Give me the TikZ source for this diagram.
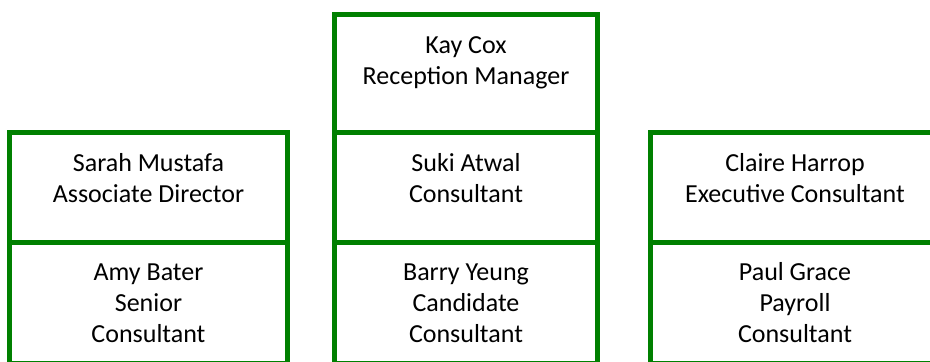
\documentclass[tikz,border=0pt]{standalone}
\usepackage{fontspec}
\setmainfont{Carlito}
\usetikzlibrary{positioning}
\definecolor{boxgreen}{RGB}{0,128,0}
\tikzset{
	box/.style={draw=boxgreen, line width=3.75pt, rectangle, inner sep=0pt},
	who/.style={align=center, inner sep=0pt, anchor=north, font=\fontsize{19.5}{23}\selectfont}
}
\begin{document}
\begin{tikzpicture}[x=0.75pt, y=-0.75pt]
	
	\useasboundingbox (0,0) rectangle (930,361);
	
	% Spalte links
	\node[box, minimum width=208.5pt, minimum height=82.125pt] (sarah) at (148.5,187.25) {};
	\node[box, minimum width=208.5pt, minimum height=90.75pt] (amy) at (148.5,302.5) {};
	
	% Spalte Mitte
	\node[box, minimum width=197.25pt, minimum height=88.5pt] (kay) at (466,73.5) {};
	\node[box, minimum width=197.25pt, minimum height=82.125pt] (suki) at (466,187.25) {};
	\node[box, minimum width=197.25pt, minimum height=90.75pt] (barry) at (466,302.5) {};
	
	% Spalte rechts
	\node[box, minimum width=216.75pt, minimum height=82.125pt] (claire) at (795,187.25) {};
	\node[box, minimum width=216.75pt, minimum height=90.75pt] (paul) at (795,302.5) {};
	
	% Beschriftung
	\node[who, below=14.7pt of kay.north] (kaytext) {\strut Kay Cox\\Reception Manager};
	\node[who, below=14.7pt of sarah.north] (sarahtext) {\strut Sarah Mustafa\\Associate Director};
	\node[who, below=14.7pt of suki.north] (sukitext) {\strut Suki Atwal\\Consultant};
	\node[who, below=14.7pt of claire.north] (clairetext) {\strut Claire Harrop\\Executive Consultant};
	\node[who, below=14.7pt of amy.north] (amytext) {\strut Amy Bater\\Senior\\Consultant};
	\node[who, below=14.7pt of barry.north] (barrytext) {\strut Barry Yeung\\Candidate\\Consultant};
	\node[who, below=14.7pt of paul.north] (paultext) {\strut Paul Grace\\Payroll\\Consultant};
	
\end{tikzpicture}
\end{document}
